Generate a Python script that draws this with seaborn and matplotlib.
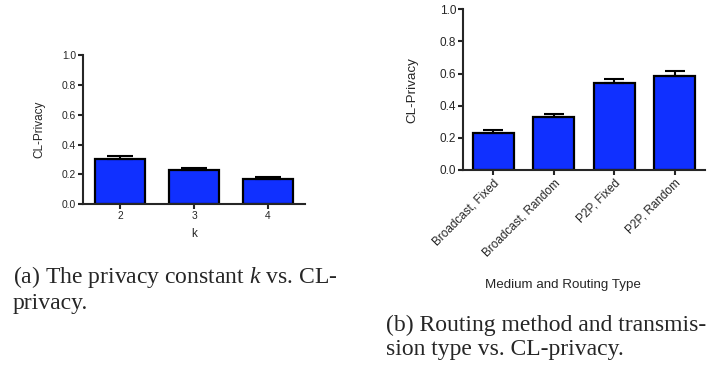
import numpy as np
import matplotlib
matplotlib.use("Agg")
import matplotlib.pyplot as plt
import seaborn as sns

# --- data ---
k_values = ['2', '3', '4']
k_privacy = [0.303, 0.229, 0.168]
k_err = [0.022, 0.016, 0.012]

route_types = ['Broadcast, Fixed', 'Broadcast, Random', 'P2P, Fixed', 'P2P, Random']
route_privacy = [0.228, 0.332, 0.540, 0.585]
route_err = [0.021, 0.018, 0.024, 0.029]

sns.set_style("ticks")
plt.rcParams['font.family'] = ['Liberation Sans', 'DejaVu Sans']
plt.rcParams['mathtext.fontset'] = 'custom'
plt.rcParams['mathtext.it'] = 'Liberation Serif:italic'
plt.rcParams['mathtext.rm'] = 'Liberation Serif'

bar_color = '#1030FF'

fig = plt.figure(figsize=(7.21, 3.71), dpi=100)
ax1 = fig.add_axes([83/721, 1 - 204/371, (305-83)/721, (204-55.4)/371])
ax2 = fig.add_axes([463/721, 1 - 170/371, (705-463)/721, (170-9.3)/371])


def draw_panel(ax, cats, vals, errs, capsize, tick_fs, label_fs):
    sns.barplot(x=cats, y=vals, ax=ax, color=bar_color, saturation=1,
                edgecolor='black', linewidth=1.6, width=0.68)
    ax.errorbar(np.arange(len(cats)), vals, yerr=[np.zeros(len(errs)), errs],
                fmt='none', ecolor='black', elinewidth=1.5, capsize=capsize,
                capthick=1.5)
    ax.set_ylim(0, 1.0)
    ax.set_xlim(-0.5, len(cats) - 0.5)
    ax.set_yticks([0, 0.2, 0.4, 0.6, 0.8, 1.0])
    ax.set_yticklabels(['0.0', '0.2', '0.4', '0.6', '0.8', '1.0'])
    for s in ['top', 'right']:
        ax.spines[s].set_visible(False)
    for s in ['left', 'bottom']:
        ax.spines[s].set_linewidth(1.5)
    ax.tick_params(axis='both', width=1.5, length=3.5, labelsize=tick_fs, pad=1.5)
    ax.set_ylabel('CL-Privacy', fontsize=label_fs)


draw_panel(ax1, k_values, k_privacy, k_err, 9.5, 7.4, 8.5)
ax1.set_xlabel('k', fontsize=8.5, labelpad=5)
ax1.yaxis.labelpad = 12

draw_panel(ax2, route_types, route_privacy, route_err, 7.5, 8.5, 9.6)
ax2.set_xticks(range(len(route_types)))
ax2.set_xticklabels(route_types, rotation=45, ha='right', rotation_mode='anchor')
ax2.set_xlabel('Medium and Routing Type', fontsize=9.6)
ax2.xaxis.set_label_coords(0.413, -0.68)
ax2.yaxis.labelpad = 15

# captions
cap_font = dict(family='Liberation Serif', fontsize=17, va='center', ha='left')
fig.text(13/721, 1 - 277/371, '(a) The privacy constant $k$ vs. CL-', **cap_font)
fig.text(13/721, 1 - 304/371, 'privacy.', **cap_font)
fig.text(386/721, 1 - 325/371, '(b) Routing method and transmis-', **cap_font)
fig.text(386/721, 1 - 350/371, 'sion type vs. CL-privacy.', **cap_font)

fig.savefig('out.png', dpi=100)
